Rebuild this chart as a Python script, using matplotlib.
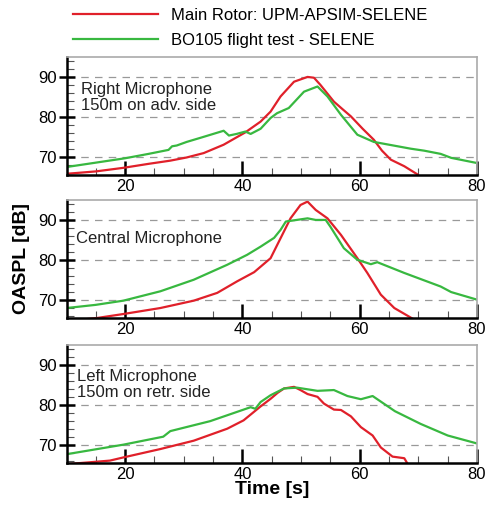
import numpy as np
import matplotlib
matplotlib.use('Agg')
import matplotlib.pyplot as plt
from matplotlib.ticker import MultipleLocator

plt.rcParams['font.family'] = ['Liberation Sans', 'DejaVu Sans']

# data: time [s] and OASPL [dB]
# right microphone (150m on advancing side)
t_right_sim = [10, 15, 19.7, 24, 27.7, 30.5, 33.4, 36.8, 40.5, 43.1, 44.8, 46.5, 48.8, 51.1,
               52.2, 53.3, 55.6, 57, 58.5, 60.5, 62.4, 63.8, 65.3, 67.6, 69.9]
oaspl_right_sim = [65.7, 66.3, 67.2, 68.2, 69.0, 69.8, 70.9, 73.0, 76.1, 78.8, 81.3, 85.1, 88.8, 90.0,
                   89.8, 88.0, 83.8, 82.0, 80.1, 77.0, 74.25, 71.5, 69.25, 67.6, 65.5]
t_right_exp = [10, 15, 20, 24, 27.4, 28, 28.8, 30.5, 33, 36.8, 37.7, 39, 40.5, 41.4, 43.1, 44.8,
               45.9, 47.9, 50.5, 52.8, 54.5, 56.8, 59.6, 62.4, 65, 68.7, 71, 73.8, 75.6, 80]
oaspl_right_exp = [67.4, 68.5, 69.6, 70.7, 71.7, 72.6, 72.8, 73.7, 74.8, 76.5, 75.3, 75.7, 76.3, 75.7,
                   77.0, 79.7, 80.9, 82.2, 86.3, 87.6, 85.1, 80.5, 75.5, 73.7, 73.0, 72.0, 71.5,
                   70.7, 69.7, 68.4]

# central microphone
t_center_sim = [10, 15.2, 19.7, 26, 31.7, 35.7, 39.1, 42, 44.8, 46.5, 48.2, 49.9, 51.1, 52.5,
                54.5, 56.8, 59.6, 61.3, 63.6, 65.9, 69]
oaspl_center_sim = [64.6, 65.4, 66.4, 67.9, 69.75, 71.7, 74.6, 76.9, 80.4, 85.4, 90.4, 93.75, 94.6,
                    92.5, 90.4, 86.25, 80.4, 76.7, 71.25, 67.9, 65.25]
t_center_exp = [10, 15, 19.7, 26, 31.7, 37.4, 40.8, 43.1, 45.4, 46.5, 47.4, 48.8, 51.1, 52.5,
                54.2, 55.0, 57.3, 59.6, 61.9, 63.0, 67.6, 73.8, 75.6, 80]
oaspl_center_exp = [67.9, 68.7, 69.75, 72.1, 75.0, 78.75, 81.25, 83.3, 85.5, 87.5, 89.6, 89.9, 90.4,
                    90.0, 90.0, 88.3, 82.9, 80.0, 78.9, 79.4, 76.7, 73.3, 71.9, 70.0]

# left microphone (150m on retreating side)
t_left_sim = [10, 17.4, 19.7, 26, 31.7, 37.4, 40.2, 43.1, 44.8, 46, 47.1, 48.8, 49.9, 51.1, 52.8,
              53.9, 55.6, 56.8, 58.5, 60.2, 62.2, 63.6, 65.6, 67.6, 68.2]
oaspl_left_sim = [65.1, 66.0, 66.8, 68.9, 71.0, 74.0, 76.1, 79.6, 81.5, 83.0, 84.1, 84.5, 83.7, 82.7,
                  82.0, 80.3, 78.8, 78.7, 77.1, 74.4, 72.3, 69.3, 67.0, 66.6, 65.1]
t_left_exp = [10, 19.7, 26.5, 27.7, 34.5, 41.4, 42.2, 43.1, 44.8, 47.1, 49.3, 52.8, 55.6, 57.9,
              60.2, 62.2, 66.0, 70.4, 75, 80]
oaspl_left_exp = [67.6, 70.0, 72.0, 73.4, 75.9, 79.4, 79.0, 80.7, 82.4, 84.1, 84.3, 83.5, 83.7, 82.2,
                  81.4, 82.2, 78.4, 75.2, 72.3, 70.3]

labels = ['Main Rotor: UPM-APSIM-SELENE', 'BO105 flight test - SELENE']
panel_text = ['Right Microphone\n150m on adv. side', 'Central Microphone',
              'Left Microphone\n150m on retr. side']
yticks = [70, 80, 90]
xticks = [20, 40, 60, 80]

red = '#e0202a'
green = '#38b840'

fig = plt.figure(figsize=(4.89, 5.07), dpi=100)
W, H = 489, 507
boxes = [(57, 175), (200, 318), (345, 463)]
series = [(t_right_sim, oaspl_right_sim, t_right_exp, oaspl_right_exp),
          (t_center_sim, oaspl_center_sim, t_center_exp, oaspl_center_exp),
          (t_left_sim, oaspl_left_sim, t_left_exp, oaspl_left_exp)]
text_pos = [(0.035, 0.79), (0.022, 0.74), (0.025, 0.80)]

axes = []
for i, (top, bot) in enumerate(boxes):
    ax = fig.add_axes([66.5 / W, 1 - bot / H, (477 - 66.5) / W, (bot - top) / H])
    ts, ys, te, ye = series[i]
    l1, = ax.plot(ts, ys, color=red, lw=1.6, label=labels[0])
    l2, = ax.plot(te, ye, color=green, lw=1.6, label=labels[1])
    for yv in yticks:
        ax.axhline(yv, color='#999999', lw=0.9, ls=(0, (6, 5)), zorder=0)
    ax.set_xlim(10, 80)
    ax.set_ylim(65.4, 95)
    ax.set_xticks(xticks)
    ax.set_yticks(yticks)
    ax.xaxis.set_minor_locator(MultipleLocator(5))
    ax.yaxis.set_minor_locator(MultipleLocator(2))
    ax.tick_params(axis='y', which='major', direction='inout', length=11, width=1.8,
                   labelsize=12, pad=1.5)
    ax.tick_params(axis='y', which='minor', direction='in', length=5, width=0.8, color='#555555')
    ax.tick_params(axis='x', which='major', direction='in', length=10, width=1.8,
                   labelsize=12, pad=3)
    ax.tick_params(axis='x', which='minor', direction='in', length=5, width=0.8, color='#555555')
    for s in ['top', 'right']:
        ax.spines[s].set_color('#aaaaaa')
        ax.spines[s].set_linewidth(1.2)
    for s in ['left', 'bottom']:
        ax.spines[s].set_linewidth(1.8)
    ax.text(text_pos[i][0], text_pos[i][1], panel_text[i], transform=ax.transAxes,
            fontsize=12, va='top', ha='left', linespacing=1.1, color='#222222')
    axes.append(ax)

axes[-1].set_xlabel('Time [s]', fontsize=14, fontweight='bold', labelpad=-1)
fig.text(22 / W, 1 - 258 / H, 'OASPL [dB]', rotation=90, fontsize=14, fontweight='bold',
         ha='center', va='center')

fig.legend([l1, l2], labels, loc='upper left', bbox_to_anchor=(70 / W, 1 - 5 / H),
           frameon=False, fontsize=12, handlelength=5.1, handletextpad=0.75,
           labelspacing=0.58, borderaxespad=0, borderpad=0.2)

fig.savefig('out.png', dpi=100)
